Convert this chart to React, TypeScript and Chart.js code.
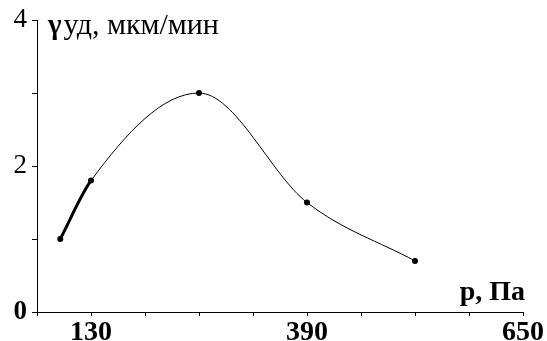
import React, { useEffect, useRef } from "react";
import { Chart, registerables } from "chart.js";

Chart.register(...registerables);

const pressurePa = [93, 130, 260, 390, 520];
const rateValues = [1.0, 1.8, 3.0, 1.5, 0.7];
const xTickLabels = [130, 390, 650];
const yTickLabels = [0, 2, 4];
const yTitle = "уд, мкм/мин";
const xTitle = "p, Па";

const FONT = "'Liberation Serif', 'Times New Roman', serif";

export default function App() {
  const ref = useRef<HTMLCanvasElement | null>(null);

  useEffect(() => {
    document.body.style.margin = "0";
    const canvas = ref.current;
    if (!canvas) return;

    const textPlugin = {
      id: "texts",
      afterDraw(chart: any) {
        const { ctx, chartArea } = chart;
        ctx.save();
        ctx.fillStyle = "#000";
        ctx.textBaseline = "alphabetic";
        ctx.textAlign = "left";
        ctx.font = `bold 29px ${FONT}`;
        const gx = chartArea.left + 11;
        const gy = chartArea.top + 14;
        ctx.fillText("γ", gx, gy);
        const gw = ctx.measureText("γ").width;
        ctx.font = `30px ${FONT}`;
        ctx.fillText(yTitle, gx + gw + 2, gy);
        ctx.font = `bold 28px ${FONT}`;
        ctx.textAlign = "right";
        ctx.fillText(xTitle, chartArea.right + 2, chartArea.bottom - 12);
        ctx.restore();
      },
    };

    const chart = new Chart(canvas, {
      type: "line",
      data: {
        datasets: [
          {
            data: pressurePa.map((x, i) => ({ x, y: rateValues[i] })),
            borderColor: "#000",
            backgroundColor: "#000",
            borderWidth: 1,
            pointRadius: 3,
            pointBorderWidth: 0,
            pointBackgroundColor: "#000",
            cubicInterpolationMode: "monotone",
            segment: {
              borderWidth: (c: any) => (c.p0DataIndex === 0 ? 3 : 1),
            },
          } as any,
        ],
      },
      options: {
        responsive: false,
        animation: false,
        layout: { padding: { top: 20, right: 24, left: 0, bottom: 0 } },
        plugins: {
          legend: { display: false },
          tooltip: { enabled: false },
        },
        scales: {
          x: {
            type: "linear",
            min: 65,
            max: 650,
            border: { display: true, color: "#000", width: 1 },
            grid: {
              drawOnChartArea: false,
              drawTicks: true,
              tickLength: 4,
              color: "#000",
            },
            ticks: {
              stepSize: 65,
              autoSkip: false,
              maxRotation: 0,
              padding: 3,
              color: "#000",
              font: { family: FONT, size: 28, weight: "bold", lineHeight: 1 },
              callback: (v: any) =>
                xTickLabels.includes(Number(v)) ? String(v) : "",
            },
            afterFit: (s: any) => {
              s.height = 29;
              s.paddingLeft = 0;
              s.paddingRight = 0;
            },
          },
          y: {
            type: "linear",
            min: 0,
            max: 4,
            border: { display: true, color: "#000", width: 1 },
            grid: {
              drawOnChartArea: false,
              drawTicks: true,
              tickLength: 5,
              color: "#000",
            },
            ticks: {
              stepSize: 1,
              autoSkip: false,
              padding: 5,
              color: "#000",
              font: (c: any) => ({
                family: FONT,
                size: 27,
                weight: c.tick && c.tick.value === 0 ? "bold" : "normal",
              }),
              callback: (v: any) =>
                yTickLabels.includes(Number(v)) ? String(v) : "",
            },
            afterFit: (s: any) => {
              s.width = 37;
              s.paddingTop = 0;
              s.paddingBottom = 0;
            },
          },
        },
      },
      plugins: [textPlugin],
    });

    return () => chart.destroy();
  }, []);

  return <canvas ref={ref} width={547} height={341} />;
}
